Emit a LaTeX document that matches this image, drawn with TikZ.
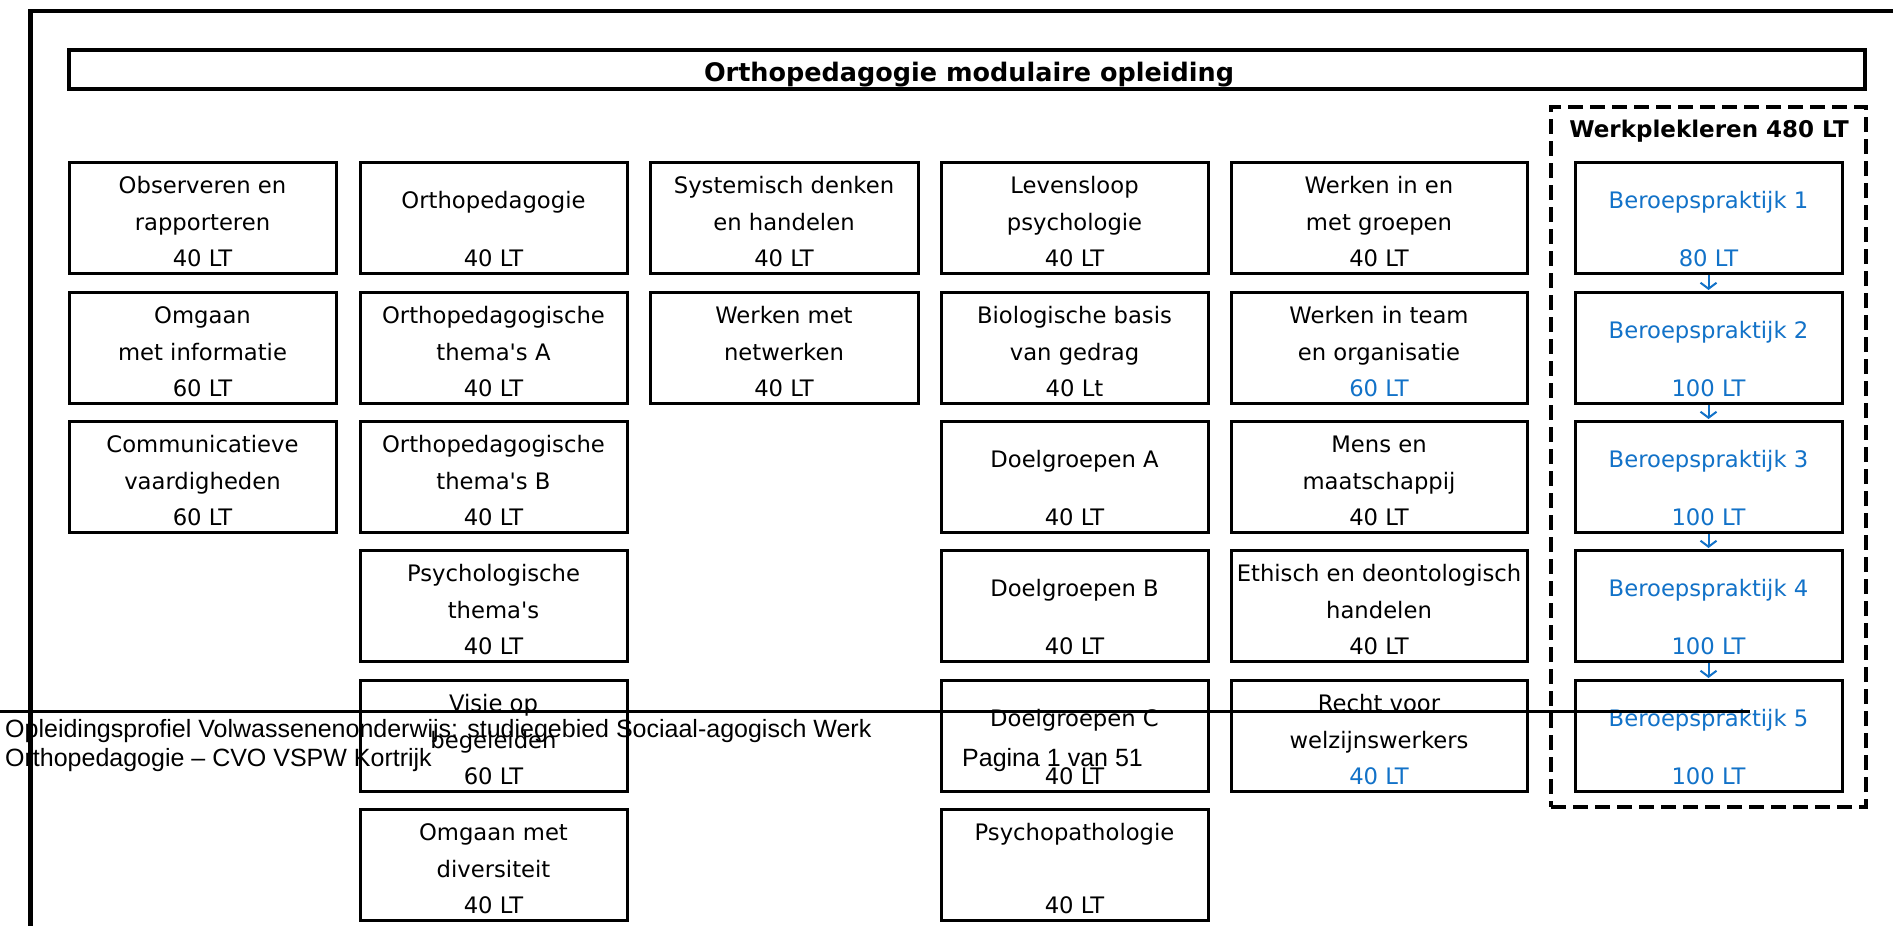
\documentclass[tikz,border=0pt]{standalone}
\usepackage{fontspec}
\setmainfont{DejaVu Sans}
\newfontfamily\footfont{Liberation Sans}
\usetikzlibrary{arrows.meta}
\definecolor{lpblue}{RGB}{18,114,200}
\newcommand\bodysize{\fontsize{22.7}{27}\selectfont}
\newcommand\ap{\textquotesingle}

\tikzset{
  modbox/.style={draw=black, line width=3pt, inner sep=0pt, outer sep=0pt,
    anchor=north west, minimum height=111},
  modtxt/.style={anchor=base, inner sep=0pt, outer sep=0pt, font=\bodysize},
  bparrow/.style={draw=lpblue, line width=2pt,
    -{Straight Barb[length=6pt,width=16pt,line width=2pt]},
    shorten <=2pt, shorten >=2pt},
  foottxt/.style={anchor=base west, inner sep=0pt, font=\footfont\fontsize{25}{29}\selectfont}
}

% name, x1, x2, top, line1, line2, lt, ltcolor
\newcommand\modtwo[8]{%
  \node[modbox, minimum width=#3-#2] (#1) at (#2,#4) {};
  \node[modtxt] (#1-a) at ([yshift=-31pt]#1.north) {#5};
  \node[modtxt] (#1-b) at ([yshift=-68pt]#1.north) {#6};
  \node[modtxt, text=#8] (#1-c) at ([yshift=-104.5pt]#1.north) {#7};
}
% name, x1, x2, top, line, lt, color
\newcommand\modone[7]{%
  \node[modbox, minimum width=#3-#2] (#1) at (#2,#4) {};
  \node[modtxt, text=#7] (#1-a) at ([yshift=-46pt]#1.north) {#5};
  \node[modtxt, text=#7] (#1-c) at ([yshift=-104.5pt]#1.north) {#6};
}

\begin{document}
\begin{tikzpicture}[x=1pt,y=-1pt]
\useasboundingbox (0,0) rectangle (1893,926);
\fill[white] (0,0) rectangle (1893,926);

% outer frame (cropped)
\draw[line width=4.5pt] (1900,11) -- (30.5,11) -- (30.5,935);

% title
\node[draw, line width=4pt, inner sep=0pt, outer sep=0pt, anchor=north west,
  minimum width=1796, minimum height=39] (title) at (69,50) {};
\node[anchor=base, inner sep=0pt, font=\bfseries\fontsize{25.5}{30}\selectfont]
  (title-t) at (969,81) {Orthopedagogie modulaire opleiding};

% column 1
\modtwo{c1r1}{69}{336}{162}{Observeren en}{rapporteren}{40 LT}{black}
\modtwo{c1r2}{69}{336}{292}{Omgaan}{met informatie}{60 LT}{black}
\modtwo{c1r3}{69}{336}{421}{Communicatieve}{vaardigheden}{60 LT}{black}

% column 2
\modone{c2r1}{360}{627}{162}{Orthopedagogie}{40 LT}{black}
\modtwo{c2r2}{360}{627}{292}{Orthopedagogische}{thema\ap s A}{40 LT}{black}
\modtwo{c2r3}{360}{627}{421}{Orthopedagogische}{thema\ap s B}{40 LT}{black}
\modtwo{c2r4}{360}{627}{550}{Psychologische}{thema\ap s}{40 LT}{black}
\modtwo{c2r5}{360}{627}{680}{Visie op}{begeleiden}{60 LT}{black}
\modtwo{c2r6}{360}{627}{809}{Omgaan met}{diversiteit}{40 LT}{black}

% column 3
\modtwo{c3r1}{650}{918}{162}{Systemisch denken}{en handelen}{40 LT}{black}
\modtwo{c3r2}{650}{918}{292}{Werken met}{netwerken}{40 LT}{black}

% column 4
\modtwo{c4r1}{941}{1208}{162}{Levensloop}{psychologie}{40 LT}{black}
\modtwo{c4r2}{941}{1208}{292}{Biologische basis}{van gedrag}{40 Lt}{black}
\modone{c4r3}{941}{1208}{421}{Doelgroepen A}{40 LT}{black}
\modone{c4r4}{941}{1208}{550}{Doelgroepen B}{40 LT}{black}
\modone{c4r5}{941}{1208}{680}{Doelgroepen C}{40 LT}{black}
\modtwo{c4r6}{941}{1208}{809}{Psychopathologie}{}{40 LT}{black}

% column 5
\modtwo{c5r1}{1231}{1527}{162}{Werken in en}{met groepen}{40 LT}{black}
\modtwo{c5r2}{1231}{1527}{292}{Werken in team}{en organisatie}{60 LT}{lpblue}
\modtwo{c5r3}{1231}{1527}{421}{Mens en}{maatschappij}{40 LT}{black}
\modtwo{c5r4}{1231}{1527}{550}{Ethisch en deontologisch}{handelen}{40 LT}{black}
\modtwo{c5r5}{1231}{1527}{680}{Recht voor}{welzijnswerkers}{40 LT}{lpblue}

% Werkplekleren group
\node[draw, line width=4pt, dash pattern=on 15pt off 7pt, inner sep=0pt, outer sep=0pt,
  anchor=north west, minimum width=315, minimum height=700] (wpl) at (1551,107) {};
\node[anchor=base, inner sep=0pt, font=\bfseries\fontsize{23}{28}\selectfont]
  (wpl-t) at (1709,137) {Werkplekleren 480 LT};

\modone{bp1}{1575}{1842}{162}{Beroepspraktijk 1}{80 LT}{lpblue}
\modone{bp2}{1575}{1842}{292}{Beroepspraktijk 2}{100 LT}{lpblue}
\modone{bp3}{1575}{1842}{421}{Beroepspraktijk 3}{100 LT}{lpblue}
\modone{bp4}{1575}{1842}{550}{Beroepspraktijk 4}{100 LT}{lpblue}
\modone{bp5}{1575}{1842}{680}{Beroepspraktijk 5}{100 LT}{lpblue}

\draw[bparrow] (bp1.south) -- (bp2.north);
\draw[bparrow] (bp2.south) -- (bp3.north);
\draw[bparrow] (bp3.south) -- (bp4.north);
\draw[bparrow] (bp4.south) -- (bp5.north);

% page footer overlay
\draw[line width=3pt] (0,711) -- (1750,711);
\node[foottxt] (foot1) at (5,737) {Opleidingsprofiel Volwassenenonderwijs: studiegebied Sociaal-agogisch Werk};
\node[foottxt] (foot2) at (5,766) {Orthopedagogie – CVO VSPW Kortrijk};
\node[foottxt] (page) at (962,766) {Pagina 1 van 51};
\end{tikzpicture}
\end{document}
